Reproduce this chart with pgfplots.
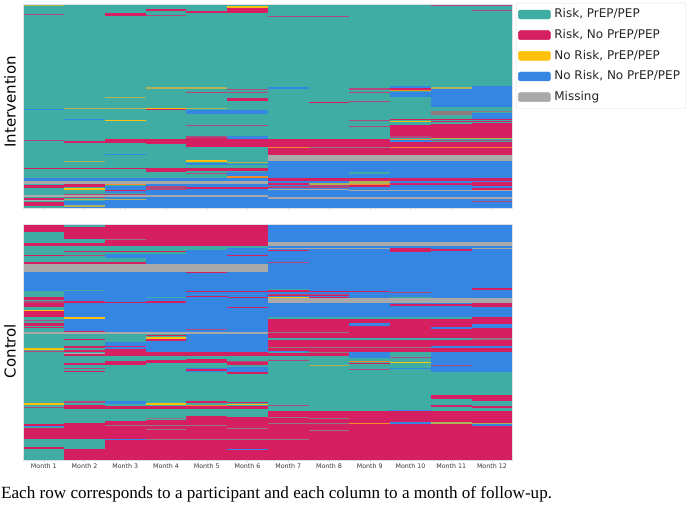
\documentclass[border=0pt]{standalone}
\usepackage{fontspec}
\setmainfont{DejaVu Sans}
\newfontfamily\capfont{Liberation Serif}
\usepackage{pgfplots}
\pgfplotsset{compat=1.18}
\definecolor{cT}{HTML}{3FADA3}
\definecolor{cR}{HTML}{D61F60}
\definecolor{cY}{HTML}{FFC10E}
\definecolor{cB}{HTML}{3586E3}
\definecolor{cG}{HTML}{A9A9A9}
\definecolor{cM}{HTML}{B2477C}
\definecolor{cO}{HTML}{B0B25A}
\definecolor{cA}{HTML}{F58A2A}
\definecolor{cD}{HTML}{8F7A80}
\definecolor{cL}{HTML}{8C9AAE}
\def\seg#1#2#3{\addplot[fill=#3,draw=none,forget plot] coordinates {(\xa,#1)(\xb,#1)(\xb,#2)(\xa,#2)} --cycle;}
\def\col#1#2{\def\xa{#1}\def\xb{#2}}
\def\Te#1#2{\seg{#1}{#2}{cT}}
\def\Cr#1#2{\seg{#1}{#2}{cR}}
\def\Ye#1#2{\seg{#1}{#2}{cY}}
\def\Bl#1#2{\seg{#1}{#2}{cB}}
\def\Gr#1#2{\seg{#1}{#2}{cG}}
\def\Mv#1#2{\seg{#1}{#2}{cM}}
\def\Ol#1#2{\seg{#1}{#2}{cO}}
\def\Og#1#2{\seg{#1}{#2}{cA}}
\def\Gt#1#2{\seg{#1}{#2}{cD}}
\pgfplotsset{heat/.style={
  scale only axis, width=488.8pt, xmin=0, xmax=12, y dir=reverse,
  axis line style={draw=cL!30,line width=.5pt},
  ytick=\empty, xtick={0.5,1.5,2.5,3.5,4.5,5.5,6.5,7.5,8.5,9.5,10.5,11.5},
  tick style={draw=cL!45,line width=.3pt,major tick length=1.5pt},
  xtick pos=bottom, xtick align=outside,
  tick label style={font=\fontsize{6.3}{7.5}\selectfont,text=black!78},
  xlabel={}, clip=true, axis on top}}
\begin{document}
\begin{tikzpicture}[x=1pt,y=1pt]
\useasboundingbox (0,0) rectangle (688,504);
\begin{axis}[heat, at={(23.5pt,296pt)}, anchor=south west, height=204pt, ymin=4, ymax=208,
  xticklabels={},
  legend style={at={(1.0075,1.005)},anchor=north west,draw=black!12,rounded corners=1.5pt,
    font=\fontsize{12}{14}\selectfont,text=black!85,row sep=4.75pt,inner ysep=3.4pt,inner xsep=2pt,
    nodes={text height=9pt,text depth=2.5pt,inner ysep=2.2pt,inner xsep=3.8pt}},
  legend cell align=left,
  legend image code/.code={\fill[#1] (-1pt,-4.5pt) rectangle (31pt,4.5pt);}]
\addlegendimage{cT}\addlegendentry{Risk, PrEP/PEP}
\addlegendimage{cR}\addlegendentry{Risk, No PrEP/PEP}
\addlegendimage{cY}\addlegendentry{No Risk, PrEP/PEP}
\addlegendimage{cB}\addlegendentry{No Risk, No PrEP/PEP}
\addlegendimage{cG}\addlegendentry{Missing}
% Month 1
\col{0}{1}\Te{4}{208}\Ol{5}{6}\Mv{13.5}{14.7}\Bl{109}{110.2}\Mv{140}{141}\Cr{168}{169.2}
\Bl{177.5}{180.7}\Gr{181}{184}\Cr{184.5}{187.5}\Gr{195}{197}\Cr{197.5}{199.5}\Gr{199.5}{200.5}\Cr{202}{205.5}
% Month 2
\col{1}{2}\Te{4}{208}\Ol{108}{109.2}\Bl{118.5}{119.5}\Cr{141}{143}\Ol{160.5}{162}\Cr{168}{169.2}
\Bl{177.5}{180.7}\Gr{181}{184}\Cr{184}{187}\Ye{187.5}{190}\Mv{193.5}{195}\Gr{195}{196.5}\Mv{196.5}{198}\Ol{199}{200}\Bl{201}{208}\Ol{205}{206.5}
% Month 3
\col{2}{3}\Te{4}{208}\Cr{13}{15.5}\Ol{96.5}{97.5}\Ol{108}{109.2}\Ye{119.5}{120.7}\Cr{138.5}{142.5}\Bl{154}{155.2}\Cr{168}{169.2}
\Bl{177.5}{181}\Gr{181}{183.5}\Og{183.5}{185}\Bl{185.5}{189.5}\Cr{190}{191}\Bl{191}{193}\Mv{193.5}{195}\Gr{195}{196.5}\Bl{196.5}{208}\Ol{199}{200}
% Month 4
\col{3}{4}\Te{4}{208}\Cr{9}{11}\Mv{15}{16}\Ol{87}{88.5}\Ye{108}{109}\Cr{109}{110.2}\Cr{138.5}{144}\Cr{168}{171.5}
\Bl{177.5}{181}\Gr{181}{183.5}\Bl{184}{186}\Mv{186}{190}\Bl{190}{195}\Gr{195}{196.5}\Bl{196.5}{208}
% Month 5
\col{4}{5}\Te{4}{208}\Cr{10.5}{13}\Ol{87}{88.5}\Mv{91.5}{92.5}\Ol{108}{109.2}\Bl{110}{113.5}\Mv{125}{126}\Mv{136}{138}\Cr{138}{146.5}
\Ye{160}{162}\Bl{163}{165}\Cr{168}{171}\Mv{173}{174}\Bl{177.5}{181}\Gr{181}{184}\Bl{184}{208}\Cr{187}{188.5}\Gr{195}{196.5}
% Month 6
\col{5}{6}\Te{4}{208}\Ye{6}{8}\Cr{8}{13.3}\Mv{88.5}{89.5}\Mv{91.5}{92.5}\Cr{97.5}{100.5}\Bl{109.5}{113.5}\Mv{125}{126}\Bl{136}{139}\Cr{139}{146.5}
\Ol{161.5}{162.5}\Bl{163.5}{165}\Cr{168}{171}\Bl{171.5}{175.5}\Og{176}{177.5}\Bl{177.5}{181}\Gr{181}{184}\Bl{184}{208}\Cr{187}{188.5}\Gr{195}{196.5}
% Month 7
\col{6}{7}\Te{4}{208}\Mv{16}{17}\Bl{87}{88.5}\Cr{139}{154.5}\Og{147}{148}\Gr{154.5}{160.5}\Bl{160.5}{208}\Cr{177.5}{180.5}\Cr{183}{184.5}\Mv{186}{188}\Gr{188.5}{190}\Gr{197}{198.5}
% Month 8
\col{7}{8}\Te{4}{208}\Mv{16}{17}\Cr{102}{103}\Cr{139}{154.5}\Gt{147}{148}\Gr{154.5}{160.5}\Bl{160.5}{208}\Cr{177.5}{180.5}\Ol{183}{184.5}\Mv{184.5}{188}\Gr{188.5}{190}\Gr{197}{198.5}
% Month 9
\col{8}{9}\Te{4}{208}\Mv{88}{89.5}\Mv{92}{93}\Mv{101}{102}\Mv{119.5}{120.5}\Mv{126}{127}\Cr{139}{154.5}\Gt{147}{148}\Gr{154.5}{160.5}\Bl{160.5}{208}\Te{172}{173.5}\Cr{177.5}{180.5}\Ol{181}{183.5}\Og{183.5}{185}\Cr{185}{186.5}\Gr{189.5}{190.5}\Gr{197}{198.5}
% Month 10
\col{9}{10}\Te{4}{208}\Bl{86}{88}\Cr{88}{89.5}\Og{90}{91}\Bl{92}{97}\Cr{118.5}{120}\Ye{121}{122}\Cr{125}{136}\Mv{136}{138}\Og{138.5}{139.5}\Bl{140}{142}\Cr{142}{154.5}\Og{147}{148}\Gr{154.5}{160.5}\Bl{160.5}{208}\Cr{177.5}{180.5}\Cr{183}{184.5}\Gr{189.5}{190.5}\Gr{197}{198.5}
% Month 11
\col{10}{11}\Te{4}{208}\Mv{5}{6}\Bl{88.5}{107}\Ol{87}{88.5}\Gt{111}{115}\Cr{118.5}{120}\Cr{121}{122}\Cr{123.5}{137.5}\Ol{138}{139}\Mv{140}{141}\Cr{142}{154.5}\Og{147}{148}\Gr{154.5}{160.5}\Bl{160.5}{208}\Cr{177.5}{180.5}\Cr{183}{184.5}\Gr{189.5}{190.5}\Gr{197}{198.5}
% Month 12
\col{11}{12}\Te{4}{208}\Mv{5}{6}\Mv{10}{11}\Bl{86}{107}\Gt{111}{112}\Bl{113}{118.5}\Cr{118.5}{120}\Cr{121}{122}\Cr{122.5}{138}\Ol{138}{139}\Mv{140}{141}\Cr{142}{154.5}\Og{147}{148}\Gr{154.5}{160.5}\Bl{160.5}{208}\Cr{177.5}{180.5}\Cr{181.7}{186}\Cr{188}{189.5}\Gr{190}{191}\Gr{197}{198.5}\Mv{201}{202}
\end{axis}
\begin{axis}[heat, at={(23.5pt,44pt)}, anchor=south west, height=236pt, ymin=224, ymax=460,
  xticklabels={Month 1,Month 2,Month 3,Month 4,Month 5,Month 6,Month 7,Month 8,Month 9,Month 10,Month 11,Month 12},
  xticklabel style={yshift=1pt}]
% Month 1
\col{0}{1}\Te{224}{460}\Cr{225}{231.7}\Cr{243}{245.7}\Cr{254.5}{255.6}\Cr{261.7}{264.3}\Gr{264.3}{271.7}\Bl{271.7}{291}\Cr{297}{299.7}\Mv{300.5}{301.3}\Mv{301.8}{302.6}\Cr{303.3}{307.3}\Ye{309.7}{311}\Cr{311}{316.7}\Mv{319.5}{320.5}\Cr{323.3}{325.7}\Cr{327}{328.3}\Gr{332.3}{334.3}\Ye{348.3}{349.7}\Mv{351}{352}\Ye{403.3}{405}\Mv{407}{408}\Cr{424}{426}\Bl{426}{427.3}\Cr{427.7}{439}\Cr{446.7}{449}
% Month 2
\col{1}{2}\Te{224}{460}\Cr{226.7}{239}\Cr{243}{245.7}\Cr{250.5}{251.5}\Mv{254.7}{255.7}\Cr{261.7}{264.3}\Gr{264.3}{271.7}\Bl{271.7}{334}\Te{290}{291}\Cr{301}{303.3}\Ye{317}{318.5}\Cr{331}{332.3}\Gr{332.3}{334.3}\Te{334.3}{340}\Cr{338.5}{339.5}\Cr{346}{347.7}\Cr{350}{352}\Gr{352.5}{353.5}\Cr{353.7}{356}\Cr{362.7}{365}\Mv{367.7}{368.7}\Cr{371.3}{372.3}\Mv{401.3}{403}\Cr{405}{409.3}\Cr{422.7}{439}\Cr{449}{460}
% Month 3
\col{2}{3}\Te{224}{460}\Bl{224}{225}\Cr{225}{245.7}\Gt{239}{240.3}\Cr{250.5}{251.5}\Bl{254.3}{258.3}\Cr{261.7}{264.3}\Gr{264.3}{271.7}\Bl{271.7}{334}\Cr{301.7}{302.7}\Gr{332.3}{334.3}\Bl{341.7}{349}\Cr{345.5}{346.7}\Cr{349.3}{356}\Cr{361.3}{365}\Bl{400.7}{404}\Cr{406}{409.3}\Cr{421}{460}\Gt{425}{426}\Bl{439}{440}
% Month 4
\col{3}{4}\Te{224}{460}\Ol{224}{225}\Cr{225}{245.7}\Cr{250.5}{251.5}\Bl{254.3}{264.3}\Bl{264.3}{334}\Gr{264.3}{271.7}\Te{296.5}{298}\Cr{301}{302.5}\Gr{332.3}{334.3}\Cr{334.5}{336}\Ye{337}{338.5}\Cr{339}{341}\Bl{341}{352}\Cr{352}{356}\Cr{360}{363.3}\Ye{403.3}{405}\Cr{406}{409.3}\Gt{417.5}{418.5}\Cr{419.5}{460}\Gt{425}{426}\Gt{428.5}{430}\Gt{439}{440}
% Month 5
\col{4}{5}\Te{224}{460}\Ye{224}{225.3}\Cr{225.3}{245.7}\Bl{250}{352}\Gr{264.3}{271.7}\Cr{271.7}{272.8}\Cr{290.5}{291.5}\Cr{295.5}{296.5}\Mv{328.5}{330}\Gr{332.3}{334.3}\Cr{352}{356}\Cr{359.3}{363.3}\Bl{368.3}{372.3}\Cr{369.3}{370.5}\Cr{401.3}{403.3}\Og{405}{406}\Cr{406}{409.3}\Cr{416}{460}\Gt{425}{426}\Gt{439}{440}
% Month 6
\col{5}{6}\Te{224}{460}\Cr{225}{245.7}\Bl{248.3}{352}\Cr{254.5}{255.5}\Gr{264.3}{271.7}\Cr{290.5}{291.5}\Cr{297}{298}\Cr{306.5}{307.5}\Gr{332.3}{334.3}\Cr{352}{356}\Mv{360.5}{361.5}\Cr{362}{365}\Bl{367.3}{372.3}\Cr{372.3}{373.5}\Cr{401.7}{403}\Ye{404}{405.3}\Cr{406}{409.3}\Cr{417.3}{460}\Gt{427.7}{429}\Gt{439}{440}\Bl{449}{450}
% Month 7
\col{6}{7}\Te{224}{460}\Bl{224}{341}\Gr{241.7}{245.7}\Gr{248}{249}\Cr{249.5}{250.5}\Mv{262}{263}\Te{289}{290}\Cr{290.3}{292.3}\Mv{293.5}{294.5}\Cr{295}{296}\Ye{296.5}{297.7}\Gr{297.7}{303}\Te{317}{318.5}\Cr{318.5}{337.7}\Gt{332}{333}\Te{337.7}{340.3}\Cr{340.3}{346.7}\Gt{347}{348}\Cr{348.3}{350.7}\Bl{351}{352}\Cr{353.3}{356}\Mv{360}{361}\Mv{405}{406}\Cr{411}{460}\Gt{417}{418}\Gt{422.5}{423.5}\Gt{439}{440}
% Month 8
\col{7}{8}\Te{224}{460}\Bl{224}{341}\Gr{241.7}{245.7}\Gr{248}{249}\Cr{290.5}{291.5}\Mv{293.5}{294.5}\Cr{295}{296}\Cr{297.3}{298.3}\Gr{298.3}{303}\Te{317}{318.5}\Cr{318.5}{337.7}\Gt{332}{333}\Te{337.7}{340.3}\Cr{340.3}{346.7}\Gt{347}{348}\Cr{348.3}{352}\Gt{352}{353}\Cr{353}{356}\Ol{365}{366}\Cr{411}{460}\Gt{418}{419}\Gt{422.5}{423.5}\Gt{430}{431}
% Month 9
\col{8}{9}\Te{224}{460}\Bl{224}{341}\Gr{241.7}{245.7}\Gr{248}{249}\Cr{290.5}{291.5}\Gr{298.3}{303}\Te{317}{318.5}\Cr{318.5}{337.7}\Bl{323.3}{325.7}\Te{337.7}{340.3}\Cr{340.3}{346.7}\Gt{347}{348}\Cr{348.3}{351.7}\Bl{351.7}{358.3}\Og{360.7}{362}\Cr{362.5}{363.5}\Mv{368.5}{369.5}\Cr{411}{460}\Og{422.5}{424}
% Month 10
\col{9}{10}\Te{224}{460}\Bl{224}{341}\Gr{241.7}{245.7}\Cr{248.3}{251.7}\Mv{292}{293}\Te{296.5}{298}\Gr{298.3}{303}\Cr{303.7}{306}\Te{317}{318.5}\Cr{318.5}{337.7}\Te{337.7}{340.3}\Cr{340.3}{346.7}\Gt{347}{348}\Cr{348.3}{352}\Mv{357}{358.3}\Ye{361.5}{362.5}\Bl{367.5}{368.5}\Bl{409.5}{411}\Cr{411}{460}\Bl{421.5}{423.5}
% Month 11
\col{10}{11}\Te{224}{460}\Bl{224}{341}\Gr{241.7}{245.7}\Cr{249}{250.5}\Gr{298.3}{303}\Cr{303.7}{306}\Te{317}{318.5}\Cr{318.5}{337.7}\Bl{327}{328.7}\Te{337.7}{340.3}\Cr{340.3}{345.5}\Bl{345.5}{347.5}\Cr{347.5}{352}\Bl{352.3}{371.7}\Mv{365}{366}\Cr{395}{399}\Cr{405}{407.3}\Cr{411}{460}\Ol{422}{423.5}
% Month 12
\col{11}{12}\Te{224}{460}\Bl{224}{316.7}\Gr{241.7}{245.7}\Gr{248}{249}\Cr{288}{289.5}\Gr{298.3}{303}\Cr{303}{307.3}\Cr{316.7}{324.3}\Bl{324.3}{328.3}\Cr{328.3}{337.7}\Gt{337.7}{340}\Cr{340}{345.5}\Bl{345.5}{347.5}\Cr{347.5}{352.3}\Bl{352.3}{371.7}\Cr{395}{401}\Cr{405.7}{407.7}\Cr{411}{460}\Ol{422.5}{424}\Bl{424}{426}
\end{axis}
\node[rotate=90,font=\fontsize{15}{16}\selectfont] at (10,402) {Intervention};
\node[rotate=90,font=\fontsize{15}{16}\selectfont] at (10,153) {Control};
\node[anchor=base west,inner sep=0pt,font=\capfont\fontsize{17.1}{18}\selectfont] at (1,5.5) {Each row corresponds to a participant and each column to a month of follow-up.};
\end{tikzpicture}
\end{document}
